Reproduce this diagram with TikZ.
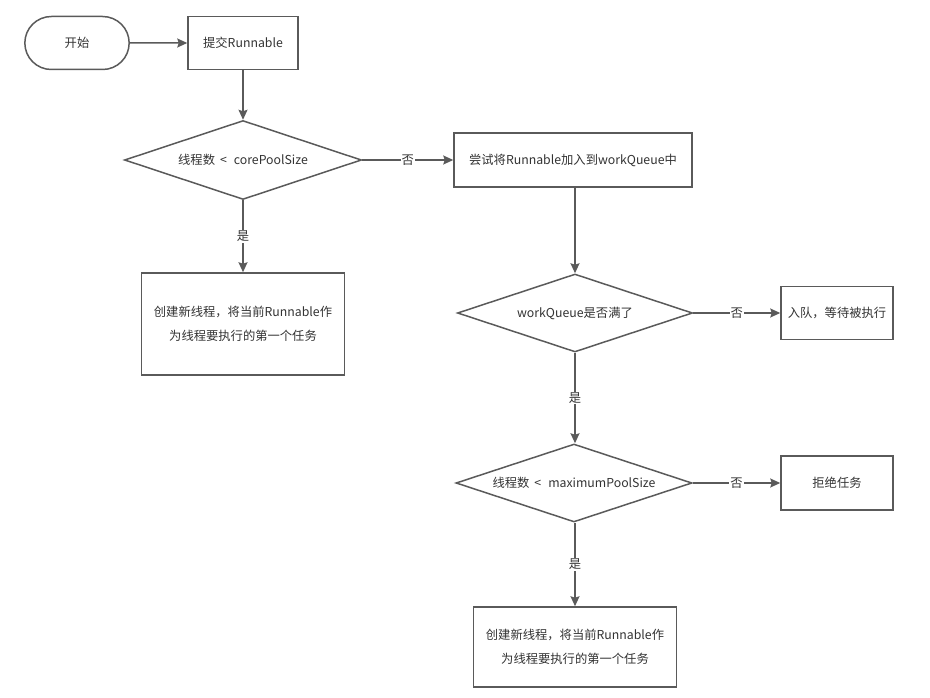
\documentclass[tikz,border=0pt]{standalone}
\usepackage{fontspec}
\setmainfont{Noto Sans CJK SC}
\usepackage{tikz}
\usetikzlibrary{positioning, arrows.meta, shapes.geometric, shapes.misc}
\definecolor{linegray}{HTML}{5A5A5A}
\definecolor{textgray}{HTML}{333333}
\newcommand{\flowfont}{\fontsize{12.3}{24}\selectfont}
\newcommand{\lessgap}{\hspace{5pt}<\hspace{7pt}}
\tikzset{
  flow start/.style={
    rounded rectangle,
    draw=linegray,
    line width=1.5pt,
    minimum width=111pt,
    minimum height=53pt,
    font=\flowfont,
    text=textgray
  },
  flow box/.style={
    draw=linegray, line width=1.5pt, fill=white,
    align=center, font=\flowfont, text=textgray,
    inner sep=0pt
  },
  flow cond/.style={
    diamond, aspect=3,
    draw=linegray, line width=1.5pt,
    minimum width=237pt, minimum height=79pt,
    inner sep=0pt, font=\flowfont, text=textgray
  },
  flow arrow/.style={
    -{Stealth[length=10pt, width=9pt, inset=1.5pt]},
    line width=1.5pt,
    color=linegray
  },
  flow label/.style={
    fill=white, font=\flowfont, text=textgray, inner sep=1pt
  }
}

\begin{document}
\begin{tikzpicture}[x=1pt, y=-1pt]
  \useasboundingbox (0,0) rectangle (930,698);

  % Nodes
  \node[flow start] (start) at (77, 43) {开始};
  \node[flow box, minimum width=110pt, minimum height=53pt] (submit) at (243, 43) {提交Runnable};
  \node[flow cond] (core) at (243, 160) {线程数\lessgap corePoolSize};
  \node[flow box, minimum width=238pt, minimum height=54pt] (offer) at (573, 160) {尝试将Runnable加入到workQueue中};
  \node[flow box, minimum width=203pt, minimum height=102pt] (newA) at (243, 324) {创建新线程，将当前Runnable作\\为线程要执行的第一个任务};
  \node[flow cond, minimum width=235pt, minimum height=78pt] (full) at (575, 313) {workQueue是否满了};
  \node[flow box, minimum width=112pt, minimum height=53pt] (enqueue) at (837, 313) {入队，等待被执行};
  \node[flow cond, minimum width=236pt, minimum height=78pt] (maxpool) at (574, 483) {线程数\lessgap maximumPoolSize};
  \node[flow box, minimum width=112pt, minimum height=54pt] (reject) at (837, 483) {拒绝任务};
  \node[flow box, minimum width=203pt, minimum height=80pt] (newB) at (575, 647) {创建新线程，将当前Runnable作\\为线程要执行的第一个任务};

  % Connectors
  \draw[flow arrow] (start) -- (submit);
  \draw[flow arrow] (submit) -- (core);
  \draw[flow arrow] (core) -- node[flow label] {否} (offer);
  \draw[flow arrow] (core) -- node[flow label] {是} (newA);
  \draw[flow arrow] (offer.south -| full.north) -- (full);
  \draw[flow arrow] (full) -- node[flow label] {否} (enqueue);
  \draw[flow arrow] (full) -- node[flow label] {是} (maxpool.north -| full.south);
  \draw[flow arrow] (maxpool) -- node[flow label] {否} (reject);
  \draw[flow arrow] (maxpool.south -| newB.north) -- node[flow label] {是} (newB);
\end{tikzpicture}
\end{document}
